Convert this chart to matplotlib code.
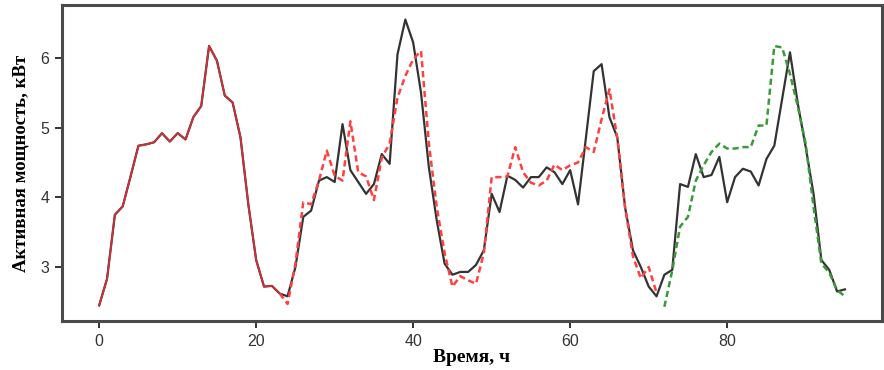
import numpy as np
import matplotlib
matplotlib.use('Agg')
import matplotlib.pyplot as plt

# часы
hours = np.arange(96)

# фактическая мощность, кВт (0..95 ч)
actual = [2.45, 2.83, 3.75, 3.87, 4.30, 4.74, 4.76, 4.79, 4.92, 4.80,
          4.92, 4.83, 5.15, 5.31, 6.17, 5.96, 5.46, 5.36, 4.86, 3.90,
          3.10, 2.72, 2.73, 2.62, 2.58, 3.00, 3.72, 3.81, 4.24, 4.29,
          4.22, 5.05, 4.39, 4.22, 4.05, 4.19, 4.62, 4.48, 6.05, 6.55,
          6.22, 5.50, 4.43, 3.67, 3.05, 2.89, 2.93, 2.93, 3.03, 3.24,
          4.05, 3.79, 4.31, 4.25, 4.14, 4.29, 4.29, 4.43, 4.36, 4.19,
          4.39, 3.90, 4.85, 5.81, 5.91, 5.15, 4.86, 3.85, 3.24, 3.00,
          2.72, 2.58, 2.89, 2.96, 4.19, 4.15, 4.62, 4.29, 4.32, 4.58,
          3.93, 4.29, 4.41, 4.37, 4.17, 4.55, 4.74, 5.41, 6.08, 5.34,
          4.72, 4.05, 3.10, 2.96, 2.65, 2.68]

# обучающий участок (0..23 ч)
train_end = 24

# прогноз на проверочном участке (23..71 ч)
val_hours = np.arange(23, 72)
val_pred = [2.62, 2.47, 3.05, 3.93, 3.90, 4.24, 4.67, 4.31, 4.24, 5.09,
            4.36, 4.30, 3.96, 4.57, 4.77, 5.43, 5.74, 5.98, 6.10, 4.77,
            3.86, 3.20, 2.72, 2.87, 2.81, 2.76, 3.20, 4.29, 4.29, 4.30,
            4.72, 4.36, 4.21, 4.17, 4.24, 4.47, 4.39, 4.46, 4.50, 4.72,
            4.65, 5.12, 5.55, 4.85, 3.85, 3.15, 2.84, 3.00, 2.63]

# прогноз на тестовом участке (72..95 ч)
test_hours = np.arange(72, 96)
test_pred = [2.43, 2.95, 3.58, 3.72, 4.24, 4.46, 4.65, 4.77, 4.70, 4.70,
             4.72, 4.72, 5.03, 5.03, 6.17, 6.15, 5.77, 5.30, 4.77, 3.86,
             3.05, 2.92, 2.67, 2.58]

fig = plt.figure(figsize=(8.84, 3.70), dpi=100)
ax = fig.add_axes([0.070, 0.132, 0.928, 0.854])

ax.plot(hours, actual, color='#333333', lw=1.6, zorder=2)
ax.plot(hours[:train_end], actual[:train_end], color='#d0303a', lw=1.3, zorder=3)
ax.plot(val_hours, val_pred, color='#ff4040', lw=1.8, ls=(0, (2.5, 1.5)), zorder=3)
ax.plot(test_hours, test_pred, color='#3a9a3a', lw=1.8, ls=(0, (2.5, 1.5)), zorder=3)

ax.set_xticks([0, 20, 40, 60, 80])
ax.set_yticks([3, 4, 5, 6])
ax.tick_params(direction='out', length=5, width=1.3, color='#222222',
               labelsize=11.5, pad=4)
for lab in ax.get_xticklabels() + ax.get_yticklabels():
    lab.set_family(['Liberation Sans Narrow', 'Liberation Sans', 'DejaVu Sans'])
    lab.set_color('#333333')

for s in ax.spines.values():
    s.set_linewidth(2.2)
    s.set_color('#4a4a4a')

ax.set_xlabel('Время, ч', family='Liberation Serif', fontweight='bold',
              fontsize=14, labelpad=0)
ax.set_ylabel('Активная мощность, кВт', family='Liberation Serif',
              fontweight='bold', fontsize=13.5, labelpad=8)

fig.savefig('out.png', dpi=100)
